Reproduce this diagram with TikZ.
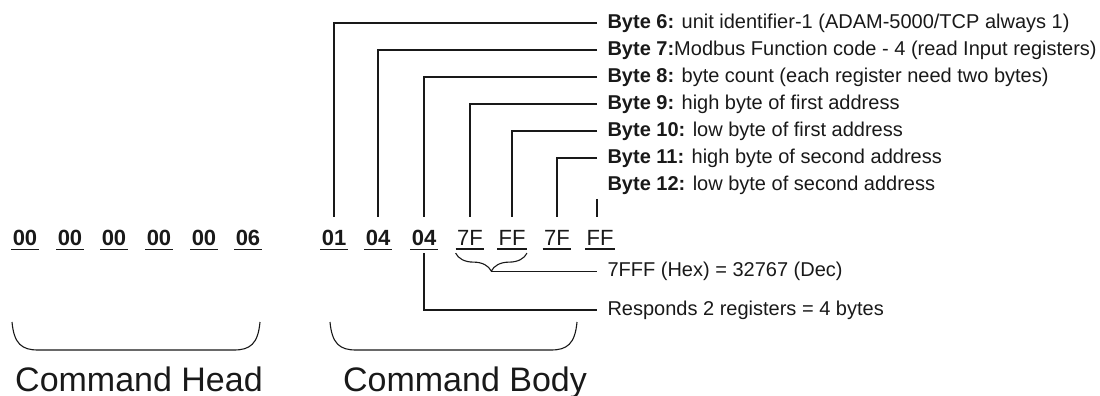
\documentclass[tikz,border=0pt]{standalone}
\usepackage{fontspec}
\setmainfont{Liberation Sans}
\usetikzlibrary{decorations.pathreplacing, calc}

\begin{document}
\begin{tikzpicture}[x=1pt, y=-1pt, line width=1.1pt, color=black!90,
    hexbyte/.style={inner xsep=1pt, inner ysep=3pt, font=\fontsize{22}{24}\selectfont},
    note/.style={anchor=west, inner xsep=10pt, inner ysep=0pt, font=\fontsize{20}{22}\selectfont},
    part/.style={anchor=base, font=\fontsize{34}{38}\selectfont}]
  \useasboundingbox (0,0) rectangle (1100,396);
  \node[hexbyte] (b1) at (25,238) {\textbf{00}};
  \node[hexbyte] (b2) at (70,238) {\textbf{00}};
  \node[hexbyte] (b3) at (114,238) {\textbf{00}};
  \node[hexbyte] (b4) at (159,238) {\textbf{00}};
  \node[hexbyte] (b5) at (204,238) {\textbf{00}};
  \node[hexbyte] (b6) at (248,238) {\textbf{06}};
  \node[hexbyte] (b7) at (334,238) {\textbf{01}};
  \node[hexbyte] (b8) at (378,238) {\textbf{04}};
  \node[hexbyte] (b9) at (424,238) {\textbf{04}};
  \node[hexbyte] (b10) at (470,238) {7F};
  \node[hexbyte] (b11) at (512,238) {FF};
  \node[hexbyte] (b12) at (557,238) {7F};
  \node[hexbyte] (b13) at (600,238) {FF};
  \foreach \i in {1,...,13}
    \draw[line width=1.6pt] (b\i.south west) -- (b\i.south east);

  \node[note] (l6) at (597,23) {\textbf{Byte 6:} unit identifier-1 (ADAM-5000/TCP always 1)};
  \node[note] (l7) at (597,50) {\textbf{Byte 7:}Modbus Function code - 4 (read Input registers)};
  \node[note] (l8) at (597,77) {\textbf{Byte 8:} byte count (each register need two bytes)};
  \node[note] (l9) at (597,104) {\textbf{Byte 9:} high byte of first address};
  \node[note] (l10) at (597,131) {\textbf{Byte 10:} low byte of first address};
  \node[note] (l11) at (597,158) {\textbf{Byte 11:} high byte of second address};
  \node[note] (l12) at (597,185) {\textbf{Byte 12:} low byte of second address};
  \draw[shorten >=10pt] (l6.west) -| (b7.north);
  \draw[shorten >=10pt] (l7.west) -| (b8.north);
  \draw[shorten >=10pt] (l8.west) -| (b9.north);
  \draw[shorten >=10pt] (l9.west) -| (b10.north);
  \draw[shorten >=10pt] (l10.west) -| (b11.north);
  \draw[shorten >=10pt] (l11.west) -| (b12.north);
  \draw[shorten <=4pt, shorten >=10pt] (l12.south west) -- (l12.west |- b13.north);

  \draw[decorate, decoration={brace, mirror, amplitude=18pt, raise=4pt}]
    (b10.south west) -- (b11.south east);
  \coordinate (hexsplit) at ($(b10.south west)!0.5!(b11.south east) + (0,22)$);
  \node[note] (hex) at (hexsplit -| l12.west) {7FFF (Hex) = 32767 (Dec)};
  \draw (hexsplit) -- (hex.west);
  \node[note] (resp) at (597,310) {Responds 2 registers = 4 bytes};
  \draw[shorten <=4pt] (b9.south) |- (resp.west);

  \draw (12,322) .. controls (14,344) and (22,350) .. (38,350) -- (234,350)
    .. controls (250,350) and (258,344) .. (260,322);
  \draw (330,322) .. controls (332,344) and (340,350) .. (356,350) -- (551,350)
    .. controls (567,350) and (575,344) .. (577,322);
  \node[part] (head) at (139,391) {Command Head};
  \node[part] (body) at (465,391) {Command Body};
\end{tikzpicture}
\end{document}
